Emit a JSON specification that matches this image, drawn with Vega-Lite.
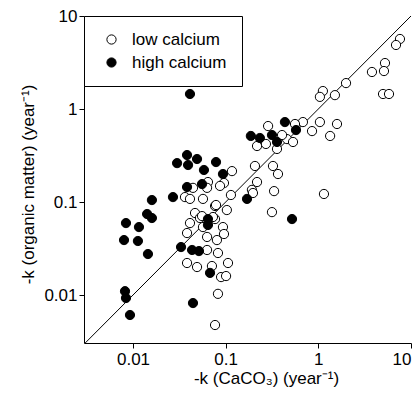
{
  "$schema": "https://vega.github.io/schema/vega-lite/v6.json",
  "width": 327,
  "height": 327,
  "autosize": {"type": "none"},
  "padding": {"left": 84, "top": 16, "right": 9, "bottom": 57},
  "background": "white",
  "config": {
    "view": {"stroke": null},
    "font": "Liberation Sans",
    "axis": {
      "grid": false,
      "domainColor": "black",
      "tickColor": "black",
      "labelColor": "black",
      "titleColor": "black",
      "tickSize": 5,
      "labelFontSize": 17,
      "titleFontSize": 17,
      "titleFontWeight": "normal",
      "labelFont": "Liberation Sans",
      "titleFont": "Liberation Sans"
    },
    "legend": {
      "orient": "top-left",
      "offset": 0,
      "strokeColor": "black",
      "strokeWidth": 1,
      "fillColor": "white",
      "padding": 15,
      "labelFontSize": 17,
      "labelFont": "Liberation Sans",
      "labelColor": "black",
      "labelOffset": 12,
      "symbolOffset": 4,
      "rowPadding": 5,
      "symbolStrokeColor": "black",
      "symbolStrokeWidth": 1,
      "symbolType": "circle",
      "symbolSize": 85
    }
  },
  "datasets": {
    "points": [
      {"x": 7.60, "y": 5.66, "group": "low calcium"},
      {"x": 6.89, "y": 4.88, "group": "low calcium"},
      {"x": 3.79, "y": 2.50, "group": "low calcium"},
      {"x": 5.24, "y": 3.12, "group": "low calcium"},
      {"x": 5.11, "y": 2.56, "group": "low calcium"},
      {"x": 4.99, "y": 1.45, "group": "low calcium"},
      {"x": 5.79, "y": 1.45, "group": "low calcium"},
      {"x": 1.99, "y": 1.90, "group": "low calcium"},
      {"x": 1.51, "y": 1.41, "group": "low calcium"},
      {"x": 1.12, "y": 1.56, "group": "low calcium"},
      {"x": 1.04, "y": 1.35, "group": "low calcium"},
      {"x": 1.59, "y": 0.690, "group": "low calcium"},
      {"x": 1.34, "y": 0.513, "group": "low calcium"},
      {"x": 1.04, "y": 0.724, "group": "low calcium"},
      {"x": 0.855, "y": 0.579, "group": "low calcium"},
      {"x": 0.682, "y": 0.724, "group": "low calcium"},
      {"x": 0.560, "y": 0.690, "group": "low calcium"},
      {"x": 0.287, "y": 0.656, "group": "low calcium"},
      {"x": 0.218, "y": 0.400, "group": "low calcium"},
      {"x": 0.272, "y": 0.421, "group": "low calcium"},
      {"x": 0.358, "y": 0.372, "group": "low calcium"},
      {"x": 0.459, "y": 0.475, "group": "low calcium"},
      {"x": 0.533, "y": 0.442, "group": "low calcium"},
      {"x": 0.406, "y": 0.525, "group": "low calcium"},
      {"x": 0.207, "y": 0.244, "group": "low calcium"},
      {"x": 0.324, "y": 0.244, "group": "low calcium"},
      {"x": 0.367, "y": 0.200, "group": "low calcium"},
      {"x": 0.218, "y": 0.164, "group": "low calcium"},
      {"x": 0.192, "y": 0.135, "group": "low calcium"},
      {"x": 0.197, "y": 0.125, "group": "low calcium"},
      {"x": 0.333, "y": 0.131, "group": "low calcium"},
      {"x": 1.15, "y": 0.122, "group": "low calcium"},
      {"x": 0.316, "y": 0.0779, "group": "low calcium"},
      {"x": 0.117, "y": 0.215, "group": "low calcium"},
      {"x": 0.0959, "y": 0.160, "group": "low calcium"},
      {"x": 0.0869, "y": 0.149, "group": "low calcium"},
      {"x": 0.0644, "y": 0.164, "group": "low calcium"},
      {"x": 0.0630, "y": 0.142, "group": "low calcium"},
      {"x": 0.0444, "y": 0.142, "group": "low calcium"},
      {"x": 0.0364, "y": 0.113, "group": "low calcium"},
      {"x": 0.0412, "y": 0.108, "group": "low calcium"},
      {"x": 0.0569, "y": 0.108, "group": "low calcium"},
      {"x": 0.114, "y": 0.119, "group": "low calcium"},
      {"x": 0.0768, "y": 0.0906, "group": "low calcium"},
      {"x": 0.103, "y": 0.0820, "group": "low calcium"},
      {"x": 0.0467, "y": 0.0762, "group": "low calcium"},
      {"x": 0.0528, "y": 0.0673, "group": "low calcium"},
      {"x": 0.0412, "y": 0.0594, "group": "low calcium"},
      {"x": 0.0569, "y": 0.0538, "group": "low calcium"},
      {"x": 0.0768, "y": 0.0656, "group": "low calcium"},
      {"x": 0.0935, "y": 0.0538, "group": "low calcium"},
      {"x": 0.0383, "y": 0.0464, "group": "low calcium"},
      {"x": 0.0630, "y": 0.0421, "group": "low calcium"},
      {"x": 0.0805, "y": 0.0390, "group": "low calcium"},
      {"x": 0.0959, "y": 0.0453, "group": "low calcium"},
      {"x": 0.0729, "y": 0.0690, "group": "low calcium"},
      {"x": 0.0556, "y": 0.0706, "group": "low calcium"},
      {"x": 0.0787, "y": 0.0929, "group": "low calcium"},
      {"x": 0.0630, "y": 0.0305, "group": "low calcium"},
      {"x": 0.0826, "y": 0.0283, "group": "low calcium"},
      {"x": 0.0383, "y": 0.0221, "group": "low calcium"},
      {"x": 0.0491, "y": 0.0200, "group": "low calcium"},
      {"x": 0.0711, "y": 0.0205, "group": "low calcium"},
      {"x": 0.106, "y": 0.0221, "group": "low calcium"},
      {"x": 0.0892, "y": 0.0156, "group": "low calcium"},
      {"x": 0.101, "y": 0.0160, "group": "low calcium"},
      {"x": 0.0826, "y": 0.0103, "group": "low calcium"},
      {"x": 0.0768, "y": 0.00476, "group": "low calcium"},
      {"x": 0.0412, "y": 1.45, "group": "high calcium"},
      {"x": 0.0299, "y": 0.262, "group": "high calcium"},
      {"x": 0.0383, "y": 0.320, "group": "high calcium"},
      {"x": 0.0393, "y": 0.250, "group": "high calcium"},
      {"x": 0.0491, "y": 0.290, "group": "high calcium"},
      {"x": 0.0583, "y": 0.221, "group": "high calcium"},
      {"x": 0.0787, "y": 0.269, "group": "high calcium"},
      {"x": 0.0935, "y": 0.200, "group": "high calcium"},
      {"x": 0.0383, "y": 0.145, "group": "high calcium"},
      {"x": 0.0556, "y": 0.156, "group": "high calcium"},
      {"x": 0.0270, "y": 0.113, "group": "high calcium"},
      {"x": 0.0160, "y": 0.105, "group": "high calcium"},
      {"x": 0.170, "y": 0.108, "group": "high calcium"},
      {"x": 0.0142, "y": 0.0743, "group": "high calcium"},
      {"x": 0.0160, "y": 0.0673, "group": "high calcium"},
      {"x": 0.00840, "y": 0.0594, "group": "high calcium"},
      {"x": 0.0116, "y": 0.0538, "group": "high calcium"},
      {"x": 0.00800, "y": 0.0390, "group": "high calcium"},
      {"x": 0.0113, "y": 0.0381, "group": "high calcium"},
      {"x": 0.0145, "y": 0.0276, "group": "high calcium"},
      {"x": 0.0644, "y": 0.0656, "group": "high calcium"},
      {"x": 0.0644, "y": 0.0566, "group": "high calcium"},
      {"x": 0.0330, "y": 0.0328, "group": "high calcium"},
      {"x": 0.0434, "y": 0.0305, "group": "high calcium"},
      {"x": 0.0515, "y": 0.0297, "group": "high calcium"},
      {"x": 0.0678, "y": 0.0173, "group": "high calcium"},
      {"x": 0.00820, "y": 0.0110, "group": "high calcium"},
      {"x": 0.00840, "y": 0.00929, "group": "high calcium"},
      {"x": 0.00928, "y": 0.00610, "group": "high calcium"},
      {"x": 0.0444, "y": 0.00820, "group": "high calcium"},
      {"x": 0.520, "y": 0.0656, "group": "high calcium"},
      {"x": 0.187, "y": 0.513, "group": "high calcium"},
      {"x": 0.234, "y": 0.488, "group": "high calcium"},
      {"x": 0.316, "y": 0.525, "group": "high calcium"},
      {"x": 0.358, "y": 0.442, "group": "high calcium"},
      {"x": 0.436, "y": 0.724, "group": "high calcium"},
      {"x": 0.574, "y": 0.594, "group": "high calcium"}
    ],
    "oneToOne": [
      {"x": 0.00296, "y": 0.00296},
      {"x": 10, "y": 10}
    ]
  },
  "layer": [
    {
      "data": {"name": "oneToOne"},
      "mark": {"type": "line", "color": "black", "strokeWidth": 1, "clip": true},
      "encoding": {
        "x": {"field": "x", "type": "quantitative"},
        "y": {"field": "y", "type": "quantitative"}
      }
    },
    {
      "data": {"name": "points"},
      "mark": {"type": "circle", "size": 85, "stroke": "black", "strokeWidth": 1, "opacity": 1},
      "encoding": {
        "x": {
          "field": "x",
          "type": "quantitative",
          "scale": {"type": "log", "domain": [0.00296, 10], "nice": false},
          "axis": {"values": [0.01, 0.1, 1, 10], "format": "~g", "title": "-k (CaCO₃) (year⁻¹)", "labelPadding": 3, "titlePadding": 3, "titleX": 182, "titleAlign": "center"}
        },
        "y": {
          "field": "y",
          "type": "quantitative",
          "scale": {"type": "log", "domain": [0.00305, 10], "nice": false},
          "axis": {"values": [0.01, 0.1, 1, 10], "format": "~g", "title": "-k (organic matter) (year⁻¹)", "labelPadding": 2, "titlePadding": 6, "titleY": 168, "titleAlign": "center"}
        },
        "fill": {
          "field": "group",
          "type": "nominal",
          "scale": {"domain": ["low calcium", "high calcium"], "range": ["white", "black"]},
          "legend": {"title": null}
        },
        "order": {"field": "group", "sort": "descending"}
      }
    }
  ]
}
